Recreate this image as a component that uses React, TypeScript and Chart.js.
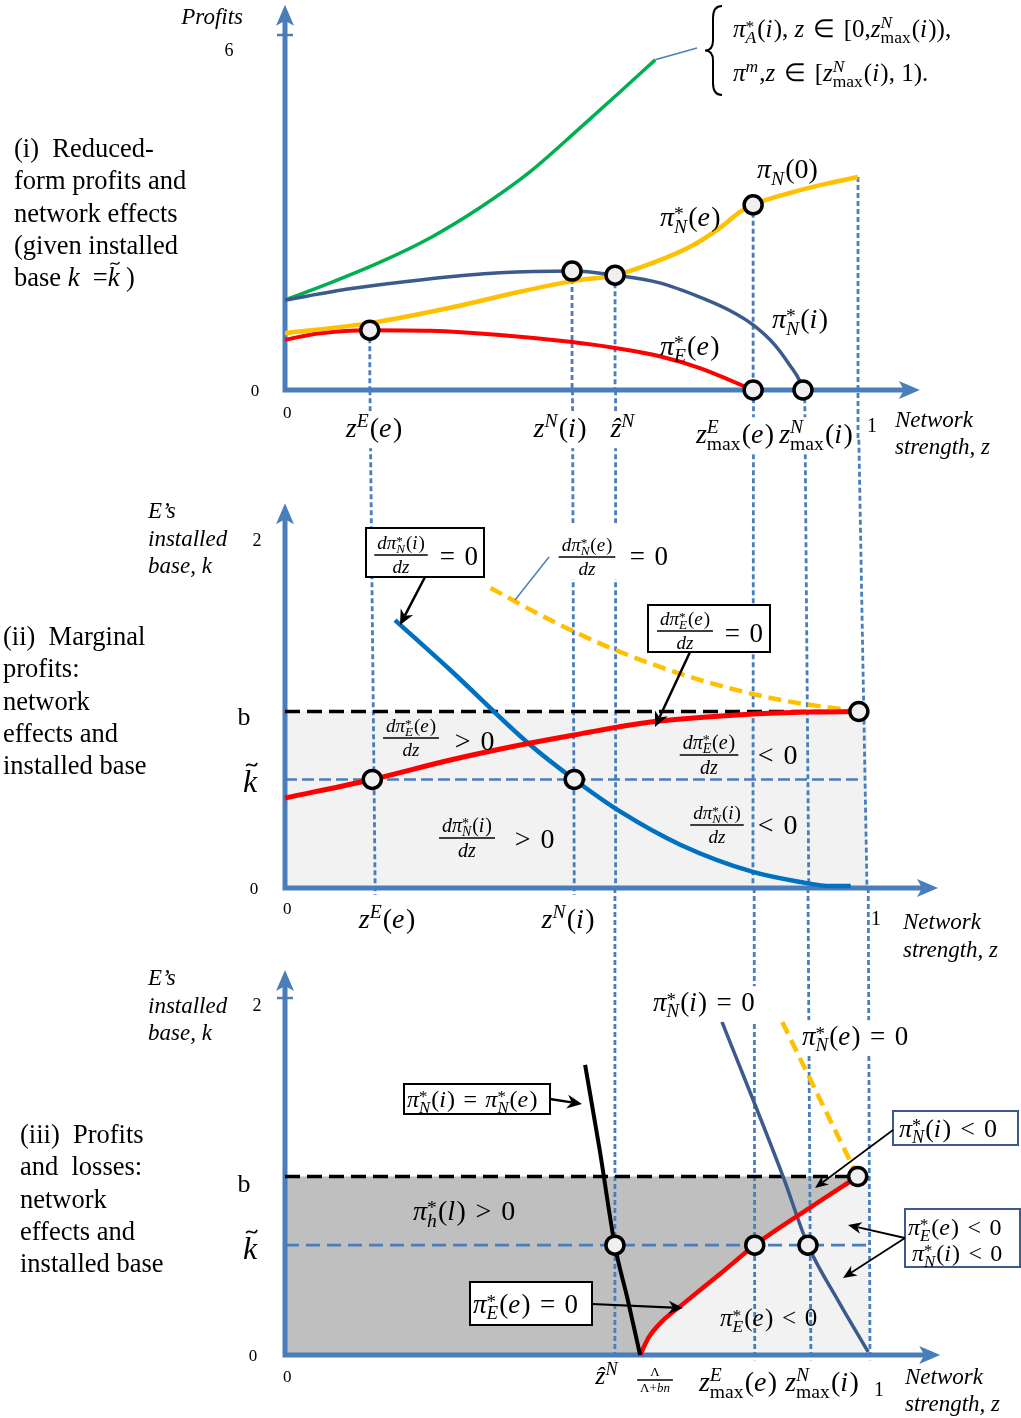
import { useEffect, useRef } from 'react';
import { Chart, registerables } from 'chart.js';

Chart.register(...registerables);

const PAGE_W = 1021;
const PAGE_H = 1418;
const SERIF = '"Liberation Serif", "Times New Roman", Times, serif';

const AXIS_BLUE = '#4a7ebb';
const GREEN = '#00b050';
const NAVY = '#3b5b8c';
const GOLD = '#ffc000';
const RED = '#ff0000';
const BLUE = '#0070c0';
const RING_FILL = '#efefef';
const LIGHT_GREY = '#f2f2f2';
const DARK_GREY = '#bfbfbf';

// ---------- Panel (i): reduced-form profits, given k = k~ ----------
const Z_E = 0.148; // z^E(e)
const Z_N = 0.501; // z^N(i)
const Z_HAT = 0.576; // ẑ^N
const Z_MAX_E = 0.817; // z^E_max(e)
const Z_MAX_N = 0.904; // z^N_max(i)

const MONO_Z = [0, 0.079, 0.166, 0.253, 0.34, 0.428, 0.515, 0.585, 0.646];
const MONO_PI = [1.52, 1.81, 2.16, 2.57, 3.08, 3.69, 4.43, 5.04, 5.58];
const LINK_Z = [0.646, 0.719];
const LINK_PI = [5.58, 5.78];

const NI_Z = [0, 0.113, 0.236, 0.375, 0.501, 0.576, 0.654, 0.724, 0.777, 0.817, 0.855, 0.881, 0.899, 0.904];
const NI_PI = [1.52, 1.71, 1.86, 1.98, 2.01, 1.94, 1.81, 1.57, 1.34, 1.1, 0.76, 0.42, 0.14, 0];

const NE_Z = [0, 0.148, 0.288, 0.41, 0.501, 0.576, 0.637, 0.707, 0.759, 0.794, 0.817, 0.881, 0.951, 1];
const NE_PI = [0.96, 1.13, 1.39, 1.66, 1.84, 1.94, 2.13, 2.42, 2.74, 3.01, 3.13, 3.33, 3.5, 3.6];

const EE_Z = [0, 0.061, 0.148, 0.253, 0.375, 0.501, 0.576, 0.654, 0.724, 0.817];
const EE_PI = [0.85, 0.96, 1.01, 1.0, 0.93, 0.81, 0.71, 0.57, 0.37, 0];

const RING_I_Z = [Z_E, Z_N, Z_HAT, Z_MAX_E, Z_MAX_E, Z_MAX_N];
const RING_I_PI = [1.01, 2.01, 1.94, 3.13, 0, 0];

const GUIDE_I_Z = [Z_E, Z_N, Z_HAT, Z_MAX_E, Z_MAX_N, 1];
const GUIDE_I_TOP = [1.01, 2.01, 1.94, 3.13, 0, 3.6];
const GUIDE_I_BOT = [0, 0, 0, 0, 0, -0.85];

// ---------- Panel (ii): marginal profits, network effects and installed base ----------
const B_LEVEL = 1.0;
const K_TILDE = 0.615;

const EMARG_Z = [0, 0.15, 0.284, 0.404, 0.497, 0.628, 0.804, 0.904, 0.986];
const EMARG_K = [0.51, 0.615, 0.725, 0.81, 0.867, 0.94, 0.986, 0.997, 1.0];

const NIMARG_Z = [0.189, 0.284, 0.418, 0.497, 0.577, 0.68, 0.804, 0.886, 0.938, 0.972];
const NIMARG_K = [1.518, 1.235, 0.82, 0.615, 0.431, 0.244, 0.091, 0.034, 0.011, 0.011];

const NEMARG_Z = [0.353, 0.456, 0.568, 0.714, 0.852, 0.986];
const NEMARG_K = [1.7, 1.518, 1.348, 1.178, 1.065, 1.0];

const RING_II_Z = [0.15, 0.497, 0.986];
const RING_II_K = [K_TILDE, K_TILDE, B_LEVEL];

const GUIDE_II_ZTOP = [0.146, 0.494, 0.568, 0.805, 0.893, 0.986];
const GUIDE_II_ZBOT = [0.155, 0.497, 0.568, 0.804, 0.9, 1];
const GUIDE_II_KTOP = [2.82, 2.82, 2.82, 2.82, 2.82, 2.54];
const GUIDE_II_KBOT = [-0.04, -0.04, 0, 0, 0, 0];

// ---------- Panel (iii): profits and losses ----------
const INDIFF_Z = [0.513, 0.538, 0.564, 0.586, 0.607];
const INDIFF_K = [1.625, 1.148, 0.611, 0.308, 0];

const EZERO_Z = [0.607, 0.622, 0.645, 0.68, 0.744, 0.803, 0.897, 0.979];
const EZERO_K = [0, 0.1, 0.19, 0.285, 0.455, 0.615, 0.824, 1.0];

const NIZERO_Z = [0.747, 0.851, 0.894, 0.945, 0.997];
const NIZERO_K = [1.866, 1.003, 0.615, 0.308, 0.017];

const NEZERO_Z = [0.85, 0.915, 0.979];
const NEZERO_K = [1.866, 1.429, 1.0];

const RING_III_Z = [0.564, 0.803, 0.894, 0.979];
const RING_III_K = [K_TILDE, K_TILDE, K_TILDE, B_LEVEL];

const GUIDE_III_ZTOP = [0.564, 0.802, 0.894, 0.997];
const GUIDE_III_ZBOT = [0.564, 0.803, 0.899, 1];
const GUIDE_III_KTOP = [2.616, 2.616, 2.616, 2.616];
const GUIDE_III_KBOT = [-0.03, -0.03, -0.03, -0.03];

// ---------- dataset builders ----------
type XY = { x: number; y: number };
const pts = (xs: number[], ys: number[]): XY[] => xs.map((x, i) => ({ x, y: ys[i] }));

function curve(xs: number[], ys: number[], color: string, width: number, extra: any = {}) {
  return {
    data: pts(xs, ys),
    showLine: true,
    borderColor: color,
    borderWidth: width,
    pointRadius: 0,
    cubicInterpolationMode: 'monotone',
    borderCapStyle: 'butt',
    clip: false,
    order: 3,
    ...extra,
  };
}

function straight(xs: number[], ys: number[], color: string, width: number, dash: number[] = [], order = 6) {
  return {
    data: pts(xs, ys),
    showLine: true,
    borderColor: color,
    borderWidth: width,
    borderDash: dash,
    pointRadius: 0,
    tension: 0,
    clip: false,
    order,
  };
}

function guides(zt: number[], zb: number[], kt: number[], kb: number[], dash: number[]) {
  return zt.map((z, i) => straight([z, zb[i]], [kt[i], kb[i]], AXIS_BLUE, 2.8, dash, 8));
}

function rings(xs: number[], ys: number[]) {
  return {
    data: pts(xs, ys),
    showLine: false,
    pointRadius: 9,
    pointBorderWidth: 3.5,
    pointBackgroundColor: RING_FILL,
    pointBorderColor: '#000',
    clip: false,
    order: 0,
  };
}

function band(xs: number[], ys: number[], color: string, fill: any, order: number) {
  return {
    data: pts(xs, ys),
    showLine: true,
    borderColor: 'rgba(0,0,0,0)',
    borderWidth: 1,
    pointRadius: 0,
    tension: 0,
    fill,
    backgroundColor: color,
    clip: false,
    order,
  };
}

// ---------- text helpers ----------
type Ctx = CanvasRenderingContext2D;
interface Piece {
  s: string;
  x: number;
  dy: number;
  size: number;
  it: boolean;
  tilde?: boolean;
}

const fontOf = (size: number, italic: boolean) => `${italic ? 'italic ' : ''}${size}px ${SERIF}`;
const ITALIC_CHARS = /[A-Za-zπẑ]/;
const RELATIONS = /[=<>∈]/;
const SCRIPT = 0.7;

function layoutMath(ctx: Ctx, src: string, size: number, upright = false): { pieces: Piece[]; width: number } {
  const out: Piece[] = [];
  let x = 0;
  let i = 0;
  const group = (): string => {
    if (src[i] !== '{') return src[i++];
    let depth = 0;
    const start = i + 1;
    for (; i < src.length; i++) {
      if (src[i] === '{') depth++;
      else if (src[i] === '}') {
        depth--;
        if (depth === 0) break;
      }
    }
    const g = src.slice(start, i);
    i++;
    return g;
  };
  const measure = (s: string, sz: number, it: boolean) => {
    ctx.font = fontOf(sz, it);
    return ctx.measureText(s).width;
  };
  while (i < src.length) {
    const c = src[i];
    if (c === '^' || c === '_') {
      let sup: string | null = null;
      let sub: string | null = null;
      while (i < src.length && (src[i] === '^' || src[i] === '_')) {
        const kind = src[i++];
        const g = group();
        if (kind === '^') sup = g;
        else sub = g;
      }
      const ss = size * SCRIPT;
      let w = 0;
      if (sup !== null) {
        const L = layoutMath(ctx, sup, ss, upright);
        const dy = sup === '*' ? -size * 0.2 : -size * 0.36;
        L.pieces.forEach((p) => out.push({ ...p, x: p.x + x, dy: p.dy + dy }));
        w = Math.max(w, L.width);
      }
      if (sub !== null) {
        const L = layoutMath(ctx, sub, ss, upright);
        L.pieces.forEach((p) => out.push({ ...p, x: p.x + x, dy: p.dy + size * 0.24 }));
        w = Math.max(w, L.width);
      }
      x += w + size * 0.04;
      continue;
    }
    if (c === '\\') {
      const cmd = src[i + 1];
      i += 2;
      const g = group();
      if (cmd === 'r') {
        const L = layoutMath(ctx, g, size, true);
        L.pieces.forEach((p) => out.push({ ...p, x: p.x + x }));
        x += L.width;
      } else if (cmd === 't') {
        const w = measure(g, size, true);
        out.push({ s: g, x, dy: 0, size, it: true, tilde: true });
        x += w;
      }
      continue;
    }
    const it = !upright && ITALIC_CHARS.test(c);
    const rel = !upright && RELATIONS.test(c);
    if (rel) x += size * 0.1;
    const w = measure(c, size, it);
    out.push({ s: c, x, dy: 0, size, it });
    x += w;
    if (rel) x += size * 0.1;
    if (it && i + 1 < src.length && /[)\]]/.test(src[i + 1])) x += size * 0.05;
    i++;
  }
  return { pieces: out, width: x };
}

function drawMath(ctx: Ctx, src: string, x: number, y: number, size: number, align: 'left' | 'center' | 'right' = 'left', whiteBg = false) {
  const { pieces, width } = layoutMath(ctx, src, size);
  const left = align === 'left' ? x : align === 'center' ? x - width / 2 : x - width;
  ctx.save();
  if (whiteBg) {
    ctx.fillStyle = '#fff';
    ctx.fillRect(left - 3, y - size * 0.92, width + 6, size * 1.32);
  }
  ctx.fillStyle = '#000';
  ctx.textAlign = 'left';
  ctx.textBaseline = 'alphabetic';
  for (const p of pieces) {
    ctx.font = fontOf(p.size, p.it);
    ctx.fillText(p.s, left + p.x, y + p.dy);
    if (p.tilde) {
      const w = ctx.measureText(p.s).width;
      const cx = left + p.x + w * 0.62;
      const ty = y + p.dy - p.size * 0.86;
      const tw = p.size * 0.34;
      const th = p.size * 0.05;
      ctx.beginPath();
      ctx.lineWidth = Math.max(1, p.size * 0.05);
      ctx.strokeStyle = '#000';
      ctx.moveTo(cx - tw / 2, ty + th);
      ctx.bezierCurveTo(cx - tw / 4, ty - 2.5 * th, cx + tw / 4, ty + 3.5 * th, cx + tw / 2, ty - th);
      ctx.stroke();
    }
  }
  ctx.restore();
  return width;
}

function drawFrac(ctx: Ctx, num: string, den: string, cx: number, yBar: number, size: number) {
  const n = layoutMath(ctx, num, size);
  const d = layoutMath(ctx, den, size);
  const w = Math.max(n.width, d.width) + 6;
  drawMath(ctx, num, cx, yBar - size * 0.32, size, 'center');
  drawMath(ctx, den, cx, yBar + size * 0.95, size, 'center');
  ctx.save();
  ctx.strokeStyle = '#000';
  ctx.lineWidth = 1.3;
  ctx.beginPath();
  ctx.moveTo(cx - w / 2, yBar);
  ctx.lineTo(cx + w / 2, yBar);
  ctx.stroke();
  ctx.restore();
}

function text(ctx: Ctx, s: string, x: number, y: number, size: number, italic = false, align: CanvasTextAlign = 'left') {
  ctx.save();
  ctx.font = fontOf(size, italic);
  ctx.textAlign = align;
  ctx.textBaseline = 'alphabetic';
  ctx.fillStyle = '#000';
  ctx.fillText(s, x, y);
  ctx.restore();
}

function caption(ctx: Ctx, lines: string[], x: number, y0: number) {
  lines.forEach((s, k) => text(ctx, s, x, y0 + k * 32.3, 26.5));
}

function arrow(ctx: Ctx, x1: number, y1: number, x2: number, y2: number, lw = 2.5, color = '#000') {
  const a = Math.atan2(y2 - y1, x2 - x1);
  const L = 10 + lw * 2;
  const hw = 3 + lw * 1.6;
  const ca = Math.cos(a);
  const sa = Math.sin(a);
  ctx.save();
  ctx.strokeStyle = color;
  ctx.fillStyle = color;
  ctx.lineWidth = lw;
  ctx.beginPath();
  ctx.moveTo(x1, y1);
  ctx.lineTo(x2 - ca * L * 0.7, y2 - sa * L * 0.7);
  ctx.stroke();
  ctx.beginPath();
  ctx.moveTo(x2, y2);
  ctx.lineTo(x2 - ca * L - sa * hw, y2 - sa * L + ca * hw);
  ctx.lineTo(x2 - ca * L * 0.7, y2 - sa * L * 0.7);
  ctx.lineTo(x2 - ca * L + sa * hw, y2 - sa * L - ca * hw);
  ctx.closePath();
  ctx.fill();
  ctx.restore();
}

function segment(ctx: Ctx, x1: number, y1: number, x2: number, y2: number, lw: number, color: string) {
  ctx.save();
  ctx.strokeStyle = color;
  ctx.lineWidth = lw;
  ctx.beginPath();
  ctx.moveTo(x1, y1);
  ctx.lineTo(x2, y2);
  ctx.stroke();
  ctx.restore();
}

function box(ctx: Ctx, x: number, y: number, w: number, h: number, color = '#000', lw = 2) {
  ctx.save();
  ctx.fillStyle = '#fff';
  ctx.fillRect(x, y, w, h);
  ctx.strokeStyle = color;
  ctx.lineWidth = lw;
  ctx.strokeRect(x, y, w, h);
  ctx.restore();
}

function brace(ctx: Ctx, xl: number, yt: number, yb: number) {
  const xm = xl + 8;
  const xr = xl + 17;
  const ym = (yt + yb) / 2;
  ctx.save();
  ctx.strokeStyle = '#000';
  ctx.lineWidth = 2;
  ctx.beginPath();
  ctx.moveTo(xr, yt);
  ctx.quadraticCurveTo(xm, yt, xm, yt + 12);
  ctx.lineTo(xm, ym - 10);
  ctx.quadraticCurveTo(xm, ym, xl, ym);
  ctx.quadraticCurveTo(xm, ym, xm, ym + 10);
  ctx.lineTo(xm, yb - 12);
  ctx.quadraticCurveTo(xm, yb, xr, yb);
  ctx.stroke();
  ctx.restore();
}

function drawAxes(chart: any, xTip: number, yTip: number, tickAt?: number) {
  const { ctx } = chart;
  const sx = chart.scales.x;
  const sy = chart.scales.y;
  const x0 = sx.getPixelForValue(0);
  const y0 = sy.getPixelForValue(0);
  const xt = sx.getPixelForValue(xTip);
  const yt = sy.getPixelForValue(yTip);
  ctx.save();
  ctx.strokeStyle = AXIS_BLUE;
  ctx.fillStyle = AXIS_BLUE;
  ctx.lineWidth = 5;
  ctx.beginPath();
  ctx.moveTo(x0 - 2.5, y0);
  ctx.lineTo(xt - 14, y0);
  ctx.moveTo(x0, y0 + 2.5);
  ctx.lineTo(x0, yt + 14);
  ctx.stroke();
  ctx.beginPath();
  ctx.moveTo(xt, y0);
  ctx.lineTo(xt - 21, y0 - 9);
  ctx.lineTo(xt - 16, y0);
  ctx.lineTo(xt - 21, y0 + 9);
  ctx.closePath();
  ctx.fill();
  ctx.beginPath();
  ctx.moveTo(x0, yt);
  ctx.lineTo(x0 - 9, yt + 21);
  ctx.lineTo(x0, yt + 16);
  ctx.lineTo(x0 + 9, yt + 21);
  ctx.closePath();
  ctx.fill();
  if (tickAt !== undefined) {
    const ty = sy.getPixelForValue(tickAt);
    ctx.lineWidth = 2.5;
    ctx.beginPath();
    ctx.moveTo(x0 - 8, ty);
    ctx.lineTo(x0 + 8, ty);
    ctx.stroke();
  }
  ctx.restore();
}

// ---------- annotations ----------
function annotateI(ctx: Ctx) {
  text(ctx, 'Profits', 243, 24, 23, true, 'right');
  text(ctx, '6', 229, 56, 18, false, 'center');
  text(ctx, '0', 255, 396, 17, false, 'center');
  text(ctx, '0', 283, 418, 17);

  brace(ctx, 705, 6, 95);
  drawMath(ctx, 'π^{*}_{A}(i), z ∈ [0,z^{N}_{\\r{max}}(i)),', 733, 37, 25);
  drawMath(ctx, 'π^{m},z ∈ [z^{N}_{\\r{max}}(i), 1).', 733, 81, 25);

  drawMath(ctx, 'π_{N}(0)', 757, 178, 28);
  drawMath(ctx, 'π^{*}_{N}(e)', 660, 226, 28);
  drawMath(ctx, 'π^{*}_{N}(i)', 772, 328, 28);
  drawMath(ctx, 'π^{*}_{E}(e)', 660, 355, 28);

  drawMath(ctx, 'z^{E}(e)', 374, 437, 28, 'center', true);
  drawMath(ctx, 'z^{N}(i)', 560, 437, 28, 'center', true);
  drawMath(ctx, 'ẑ^{N}', 623, 437, 28, 'center', true);
  drawMath(ctx, 'z^{E}_{\\r{max}}(e)', 735, 443, 28, 'center', true);
  drawMath(ctx, 'z^{N}_{\\r{max}}(i)', 816, 443, 28, 'center', true);
  text(ctx, '1', 867, 432, 20);
  text(ctx, 'Network', 895, 427, 23, true);
  text(ctx, 'strength, z', 895, 454, 23, true);

  caption(ctx, ['(i)  Reduced-', 'form profits and', 'network effects', '(given installed'], 14, 157);
  drawMath(ctx, '\\r{base }k\\r{  =}\\t{k}\\r{ )}', 14, 286, 26.5);
}

function yAxisTitle(ctx: Ctx, y0: number) {
  text(ctx, 'E’s', 148, y0, 23, true);
  text(ctx, 'installed', 148, y0 + 27.5, 23, true);
  text(ctx, 'base, k', 148, y0 + 55, 23, true);
}

function annotateII(ctx: Ctx) {
  yAxisTitle(ctx, 518);
  text(ctx, '2', 257, 546, 18, false, 'center');
  text(ctx, 'b', 244, 725, 26, false, 'center');
  drawMath(ctx, '\\t{k}', 250, 792, 32, 'center');
  text(ctx, '0', 254, 894, 17, false, 'center');
  text(ctx, '0', 283, 914, 17);
  drawMath(ctx, 'z^{E}(e)', 387, 928, 28, 'center');
  drawMath(ctx, 'z^{N}(i)', 568, 928, 28, 'center');
  text(ctx, '1', 871, 925, 20);
  text(ctx, 'Network', 903, 929, 23, true);
  text(ctx, 'strength, z', 903, 957, 23, true);

  // dπN(i)/dz = 0 callout
  box(ctx, 366, 528, 118, 49);
  drawFrac(ctx, 'dπ^{*}_{N}(i)', 'dz', 401, 555, 19);
  drawMath(ctx, '= 0', 437, 565, 27);
  arrow(ctx, 425, 577, 400, 625, 2.5);

  // dπN(e)/dz = 0 label on the yellow curve
  ctx.save();
  ctx.fillStyle = '#fff';
  ctx.fillRect(553, 523, 123, 56);
  ctx.restore();
  drawFrac(ctx, 'dπ^{*}_{N}(e)', 'dz', 587, 557, 19);
  drawMath(ctx, '= 0', 627, 565, 27);
  segment(ctx, 549, 557, 515, 600, 1.5, AXIS_BLUE);

  // dπE(e)/dz = 0 callout
  box(ctx, 648, 605, 122, 47);
  drawFrac(ctx, 'dπ^{*}_{E}(e)', 'dz', 685, 631, 19);
  drawMath(ctx, '= 0', 722, 642, 27);
  arrow(ctx, 690, 652, 655, 727, 2.5);

  drawFrac(ctx, 'dπ^{*}_{E}(e)', 'dz', 411, 738, 19);
  drawMath(ctx, '> 0', 452, 750, 28);
  drawFrac(ctx, 'dπ^{*}_{E}(e)', 'dz', 709, 755, 20);
  drawMath(ctx, '< 0', 755, 764, 28);
  drawFrac(ctx, 'dπ^{*}_{N}(i)', 'dz', 467, 838, 20);
  drawMath(ctx, '> 0', 512, 848, 28);
  drawFrac(ctx, 'dπ^{*}_{N}(i)', 'dz', 717, 825, 19);
  drawMath(ctx, '< 0', 755, 834, 28);

  caption(ctx, ['(ii)  Marginal', 'profits:', 'network', 'effects and', 'installed base'], 3, 645);
}

function annotateIII(ctx: Ctx) {
  yAxisTitle(ctx, 985);
  text(ctx, '2', 257, 1011, 18, false, 'center');
  text(ctx, 'b', 244, 1192, 26, false, 'center');
  drawMath(ctx, '\\t{k}', 250, 1259, 32, 'center');
  text(ctx, '0', 253, 1361, 17, false, 'center');
  text(ctx, '0', 283, 1382, 17);
  drawMath(ctx, 'ẑ^{N}', 607, 1384, 26, 'center');
  drawFrac(ctx, 'Λ', 'Λ+bn', 655, 1380, 13);
  drawMath(ctx, 'z^{E}_{\\r{max}}(e)', 738, 1391, 28, 'center');
  drawMath(ctx, 'z^{N}_{\\r{max}}(i)', 822, 1391, 28, 'center');
  text(ctx, '1', 874, 1396, 20);
  text(ctx, 'Network', 905, 1384, 23, true);
  text(ctx, 'strength, z', 905, 1411, 23, true);

  box(ctx, 404, 1084, 146, 30);
  drawMath(ctx, 'π^{*}_{N}(i) = π^{*}_{N}(e)', 407, 1107, 24);
  arrow(ctx, 550, 1099, 582, 1104, 2.5);

  drawMath(ctx, 'π^{*}_{N}(i) = 0', 653, 1011, 27, 'left', true);
  drawMath(ctx, 'π^{*}_{N}(e) = 0', 802, 1045, 27, 'left', true);

  box(ctx, 893, 1111, 125, 34, NAVY, 2);
  drawMath(ctx, 'π^{*}_{N}(i) < 0', 899, 1137, 26);
  arrow(ctx, 893, 1130, 815, 1188, 1.6);

  drawMath(ctx, 'π^{*}_{h}(l) > 0', 413, 1220, 28);

  box(ctx, 905, 1209, 115, 58, NAVY, 2);
  drawMath(ctx, 'π^{*}_{E}(e) < 0', 908, 1235, 24);
  drawMath(ctx, 'π^{*}_{N}(i) < 0', 912, 1261, 24);
  arrow(ctx, 905, 1238, 848, 1225, 1.8);
  arrow(ctx, 905, 1238, 843, 1278, 1.8);

  box(ctx, 470, 1282, 122, 43);
  drawMath(ctx, 'π^{*}_{E}(e) = 0', 473, 1313, 27);
  arrow(ctx, 592, 1304, 683, 1308, 2.2);

  drawMath(ctx, 'π^{*}_{E}(e) < 0', 720, 1326, 25);

  caption(ctx, ['(iii)  Profits', 'and  losses:', 'network', 'effects and', 'installed base'], 20, 1143);
}

// ---------- dataset sets ----------
function datasetsI() {
  return [
    rings(RING_I_Z, RING_I_PI),
    curve(MONO_Z, MONO_PI, GREEN, 3.5),
    straight(LINK_Z, LINK_PI, AXIS_BLUE, 1.6, [], 4),
    curve(EE_Z, EE_PI, RED, 4),
    curve(NE_Z, NE_PI, GOLD, 4.5, { order: 2 }),
    curve(NI_Z, NI_PI, NAVY, 3.5, { order: 1 }),
    ...guides(GUIDE_I_Z, GUIDE_I_Z, GUIDE_I_TOP, GUIDE_I_BOT, [5, 3]),
  ];
}

function datasetsII() {
  const zEnd = RING_II_Z[2];
  return [
    rings(RING_II_Z, RING_II_K),
    curve(EMARG_Z, EMARG_K, RED, 5, { order: 2 }),
    curve(NIMARG_Z, NIMARG_K, BLUE, 4.5, { order: 3 }),
    curve(NEMARG_Z, NEMARG_K, GOLD, 4.5, { borderDash: [13, 7], order: 4 }),
    straight([0, zEnd], [B_LEVEL, B_LEVEL], '#000', 3.5, [15, 7], 5),
    straight([0, 0.993], [K_TILDE, K_TILDE], AXIS_BLUE, 2.5, [12, 5], 7),
    ...guides(GUIDE_II_ZTOP, GUIDE_II_ZBOT, GUIDE_II_KTOP, GUIDE_II_KBOT, [5, 3]),
    band([0, 1], [B_LEVEL, B_LEVEL], LIGHT_GREY, 'origin', 20),
  ];
}

function datasetsIII() {
  const zRed = EZERO_Z[EZERO_Z.length - 1];
  const lowerBoundary = [{ x: 0, y: 0 }, ...pts(EZERO_Z, EZERO_K)];
  return [
    rings(RING_III_Z, RING_III_K),
    curve(INDIFF_Z, INDIFF_K, '#000', 4, { order: 1 }),
    curve(EZERO_Z, EZERO_K, RED, 4.5, { order: 2 }),
    curve(NIZERO_Z, NIZERO_K, NAVY, 3.5, { order: 3 }),
    straight(NEZERO_Z, NEZERO_K, GOLD, 4.5, [13, 7], 4),
    straight([0, 0.967], [B_LEVEL, B_LEVEL], '#000', 3.5, [15, 7], 5),
    straight([0, 1], [K_TILDE, K_TILDE], AXIS_BLUE, 2.8, [14, 7], 7),
    ...guides(GUIDE_III_ZTOP, GUIDE_III_ZBOT, GUIDE_III_KTOP, GUIDE_III_KBOT, [5, 3]),
    band([0, zRed], [B_LEVEL, B_LEVEL], DARK_GREY, '+1', 19),
    { ...band([0], [0], 'rgba(0,0,0,0)', false, 18), data: lowerBoundary, cubicInterpolationMode: 'monotone' },
    band([0, 1], [B_LEVEL, B_LEVEL], LIGHT_GREY, 'origin', 20),
  ];
}

interface PanelSpec {
  pad: { left: number; right: number; top: number; bottom: number };
  yMax: number;
  xTip: number;
  yTip: number;
  tickAt?: number;
  datasets: () => any[];
  annotate: (ctx: Ctx) => void;
}

const PANELS: PanelSpec[] = [
  {
    pad: { left: 285, right: PAGE_W - 858, top: 35, bottom: PAGE_H - 390 },
    yMax: 6,
    xTip: 1.108,
    yTip: 6.51,
    tickAt: 6,
    datasets: datasetsI,
    annotate: annotateI,
  },
  {
    pad: { left: 285, right: PAGE_W - 867, top: 535, bottom: PAGE_H - 888 },
    yMax: 2,
    xTip: 1.122,
    yTip: 2.18,
    datasets: datasetsII,
    annotate: annotateII,
  },
  {
    pad: { left: 285, right: PAGE_W - 870, top: 998, bottom: PAGE_H - 1355 },
    yMax: 2,
    xTip: 1.12,
    yTip: 2.157,
    tickAt: 2,
    datasets: datasetsIII,
    annotate: annotateIII,
  },
];

function buildChart(canvas: HTMLCanvasElement, spec: PanelSpec) {
  return new Chart(canvas, {
    type: 'line',
    data: { datasets: spec.datasets() },
    options: {
      responsive: false,
      animation: false,
      devicePixelRatio: 1,
      events: [],
      layout: { padding: spec.pad },
      scales: {
        x: { type: 'linear', min: 0, max: 1, display: false },
        y: { type: 'linear', min: 0, max: spec.yMax, display: false },
      },
      plugins: {
        legend: { display: false },
        tooltip: { enabled: false },
        filler: { drawTime: 'beforeDatasetsDraw' },
      },
    } as any,
    plugins: [
      {
        id: 'panelDecor',
        beforeDatasetsDraw(chart: any) {
          drawAxes(chart, spec.xTip, spec.yTip, spec.tickAt);
        },
        afterDatasetsDraw(chart: any) {
          spec.annotate(chart.ctx);
        },
      },
    ],
  });
}

export default function App() {
  const refs = [useRef<HTMLCanvasElement>(null), useRef<HTMLCanvasElement>(null), useRef<HTMLCanvasElement>(null)];

  useEffect(() => {
    const charts = PANELS.map((spec, i) => buildChart(refs[i].current as HTMLCanvasElement, spec));
    return () => charts.forEach((c) => c.destroy());
  }, []);

  return (
    <div style={{ position: 'absolute', left: 0, top: 0, width: PAGE_W, height: PAGE_H, background: '#fff', overflow: 'hidden' }}>
      {PANELS.map((_, i) => (
        <canvas
          key={i}
          ref={refs[i]}
          width={PAGE_W}
          height={PAGE_H}
          style={{ position: 'absolute', left: 0, top: 0, width: PAGE_W, height: PAGE_H, zIndex: 3 - i }}
        />
      ))}
    </div>
  );
}
